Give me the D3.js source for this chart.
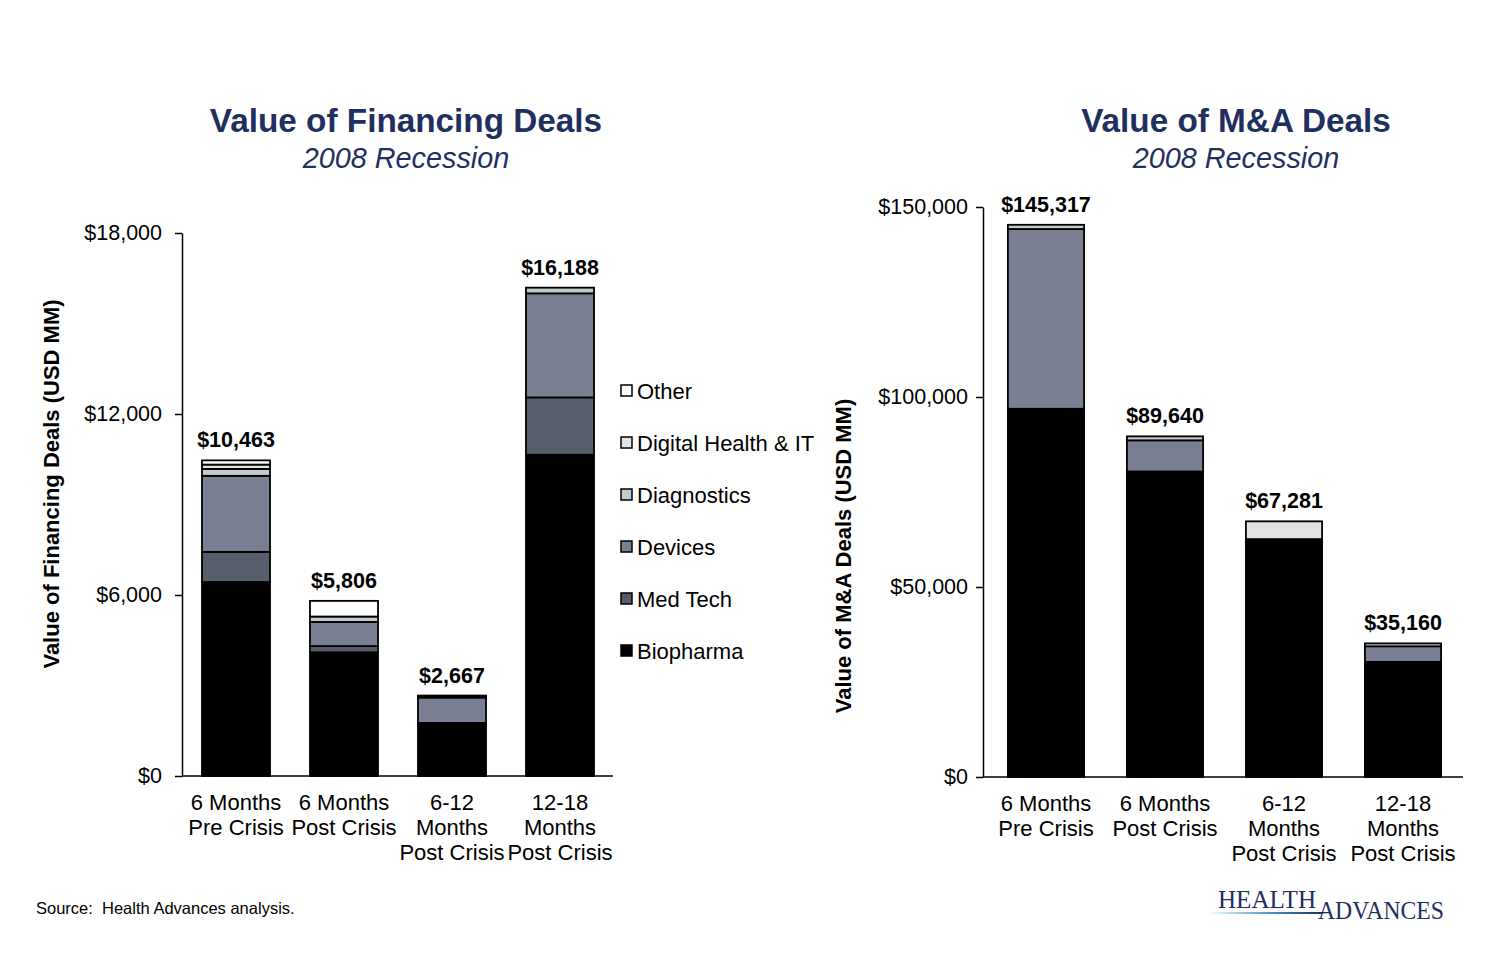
<!DOCTYPE html>
<html><head><meta charset="utf-8">
<script src="https://cdn.jsdelivr.net/npm/d3@7"></script>
<style>
body{margin:0;background:#fff;}
text{font-family:Arial,"Liberation Sans",sans-serif;}
text.serif{font-family:"Liberation Serif","DejaVu Serif",serif;}
</style></head>
<body>
<svg id="c" width="1500" height="954"></svg>
<script>
// ---- data ----
const categories = [["6 Months","Pre Crisis"],["6 Months","Post Crisis"],["6-12","Months","Post Crisis"],["12-18","Months","Post Crisis"]];
const seriesNames = ["Biopharma","Med Tech","Devices","Diagnostics","Digital Health & IT","Other"];
const seriesColors = ["#000000","#575d6b","#7a7f93","#c3cbcf","#e3e3e3","#ffffff"];
// Financing deals (USD MM)
const finBiopharma   = [6430, 4100, 1700, 10650];
const finMedTech     = [1000,  206,   60,  1900];
const finDevices     = [2520,  800,  840,  3450];
const finDiagnostics = [ 230,  180,   40,   188];
const finDigital     = [ 143,    0,   27,     0];
const finOther       = [ 140,  520,    0,     0];
const finTotals      = ["$10,463","$5,806","$2,667","$16,188"];
const finTicks       = [0, 6000, 12000, 18000];
// M&A deals (USD MM)
const maBiopharma   = [96900, 80400, 62600, 30300];
const maMedTech     = [    0,     0,     0,     0];
const maDevices     = [47300,  8200,     0,  4100];
const maDiagnostics = [ 1117,  1040,     0,   760];
const maDigital     = [    0,     0,  4681,     0];
const maOther       = [    0,     0,     0,     0];
const maTotals      = ["$145,317","$89,640","$67,281","$35,160"];
const maTicks       = [0, 50000, 100000, 150000];

const navy = "#1f2f5e";
const svg = d3.select("#c");

function chart(o){
  const g = svg.append("g");
  const x = d3.scaleBand().domain(d3.range(4)).range([o.b0, o.b1]).paddingInner(o.pad).paddingOuter(o.pad/2);
  const y = d3.scaleLinear().domain([0, o.max]).range([o.yb, o.yt]);
  // title
  g.append("text").attr("x",o.tx).attr("y",132).attr("text-anchor","middle")
    .attr("font-size",33.3).attr("font-weight","bold").attr("fill",navy).text(o.title);
  g.append("text").attr("x",o.tx).attr("y",168).attr("text-anchor","middle")
    .attr("font-size",28.8).attr("font-style","italic").attr("fill",navy).text("2008 Recession");
  // stacks
  const rows = d3.range(4).map(i => {
    const r = {i};
    o.series.forEach((s,k)=> r[seriesNames[k]] = s[i]);
    return r;
  });
  const stack = d3.stack().keys(seriesNames)(rows);
  stack.forEach((layer,k)=>{
    g.append("g").selectAll("rect").data(layer.filter(d=>d[1]-d[0]>0)).join("rect")
      .attr("x", d=>x(d.data.i)).attr("width", x.bandwidth())
      .attr("y", d=>y(d[1])).attr("height", d=>y(d[0])-y(d[1]))
      .attr("fill", seriesColors[k]).attr("stroke","#000").attr("stroke-width",1.8);
  });
  // totals
  g.append("g").selectAll("text").data(o.totals).join("text")
    .attr("x",(d,i)=>x(i)+x.bandwidth()/2)
    .attr("y",(d,i)=>y(d3.sum(o.series,s=>s[i]))-13)
    .attr("text-anchor","middle").attr("font-size",21.5).attr("font-weight","bold").text(d=>d);
  // axes
  const ya = g.append("g").attr("transform",`translate(${o.x0},0)`)
    .call(d3.axisLeft(y).tickValues(o.ticks).tickSize(7).tickSizeOuter(0).tickFormat(d=>"$"+d3.format(",")(d)));
  ya.select(".domain").attr("stroke","#000").attr("stroke-width",1.5);
  ya.selectAll(".tick line").attr("stroke","#000").attr("stroke-width",1.5);
  ya.selectAll(".tick text").attr("font-size",21.5).attr("fill","#000").attr("x",-o.tg)
    .attr("font-family",null);
  g.append("line").attr("x1",o.x0).attr("x2",o.x1).attr("y1",o.yb).attr("y2",o.yb)
    .attr("stroke","#000").attr("stroke-width",1.5);
  // category labels
  categories.forEach((lines,i)=>{
    const cx = x(i)+x.bandwidth()/2;
    const t = g.append("text").attr("text-anchor","middle").attr("font-size",22)
      .attr("x",cx).attr("y",o.yb+34);
    lines.forEach((l,j)=> t.append("tspan").attr("x",cx).attr("dy",j?25.2:0).text(l));
  });
  // y label
  g.append("text").attr("transform",`translate(${o.lx},${o.ly}) rotate(-90)`)
    .attr("text-anchor","middle").attr("font-size",22).attr("font-weight","bold").text(o.ylabel);
}

chart({x0:182,x1:613,b0:182,b1:614,pad:0.37,yb:776,yt:233,max:18000,ticks:finTicks,tx:406,tg:20,
  title:"Value of Financing Deals",ylabel:"Value of Financing Deals (USD MM)",lx:59,ly:484,
  series:[finBiopharma,finMedTech,finDevices,finDiagnostics,finDigital,finOther],totals:finTotals});
chart({x0:983,x1:1463,b0:986.5,b1:1462.5,pad:0.36,yb:777,yt:207,max:150000,ticks:maTicks,tx:1236,tg:15,
  title:"Value of M&A Deals",ylabel:"Value of M&A Deals (USD MM)",lx:851,ly:556,
  series:[maBiopharma,maMedTech,maDevices,maDiagnostics,maDigital,maOther],totals:maTotals});

// legend (top to bottom: Other ... Biopharma)
const legOrder = d3.range(seriesNames.length).reverse();
const leg = svg.append("g");
legOrder.forEach((k,j)=>{
  const yy = 391 + j*52;
  leg.append("rect").attr("x",621).attr("y",yy-6).attr("width",11).attr("height",11)
    .attr("fill",seriesColors[k]).attr("stroke","#000").attr("stroke-width",1.5);
  leg.append("text").attr("x",637).attr("y",yy+8).attr("font-size",22).text(seriesNames[k]);
});

// source
svg.append("text").attr("x",36).attr("y",914).attr("font-size",16.5)
  .attr("xml:space","preserve").style("white-space","pre").text("Source:  Health Advances analysis.");

// logo
const grad = svg.append("defs").append("linearGradient").attr("id","lg");
grad.append("stop").attr("offset","0%").attr("stop-color","#ffffff");
grad.append("stop").attr("offset","55%").attr("stop-color","#4a90c8");
grad.append("stop").attr("offset","100%").attr("stop-color","#1f2f5e");
svg.append("rect").attr("x",1208).attr("y",912).attr("width",115).attr("height",2).attr("fill","url(#lg)");
svg.append("text").attr("class","serif").attr("x",1218).attr("y",908).attr("font-size",26).attr("fill",navy)
  .attr("textLength",98).attr("lengthAdjust","spacingAndGlyphs").text("HEALTH");
svg.append("text").attr("class","serif").attr("x",1318).attr("y",919).attr("font-size",26).attr("fill",navy)
  .attr("textLength",126).attr("lengthAdjust","spacingAndGlyphs").text("ADVANCES");
</script>
</body></html>
